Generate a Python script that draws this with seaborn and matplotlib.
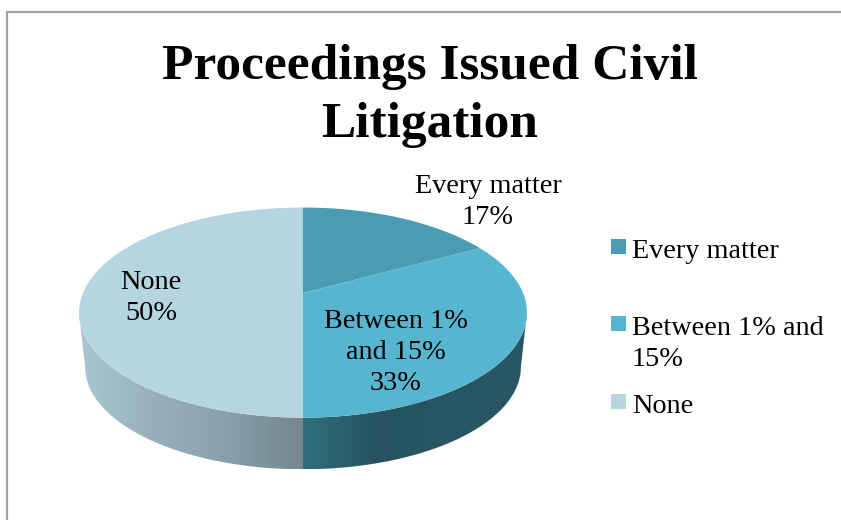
import numpy as np
import matplotlib
matplotlib.use("Agg")
import matplotlib.pyplot as plt
import seaborn as sns
from matplotlib.colors import LinearSegmentedColormap
from matplotlib.patches import Polygon, Rectangle
from matplotlib.path import Path
from matplotlib.transforms import Affine2D, Transform

title = "Proceedings Issued Civil\nLitigation"
categories = ["Every matter", "Between 1% and 15%", "None"]
shares = [17, 33, 50]
legend_labels = ["Every matter", "Between 1% and\n15%", "None"]
slice_labels = ["Every matter\n17%", "Between 1%\nand 15%\n33%", "None\n50%"]
top_colors = ["#4a9cb4", "#57b5d0", "#b5d5e1"]
# wall shading, left to right across each visible piece
wall_colors = {
    "Between 1% and 15%": ["#2f6f7c", "#26535f", "#285664", "#285664"],
    "None": ["#abc6d2", "#97b0bc", "#87a0aa", "#76868e"],
}

# pie geometry in picture pixels (tilted disc seen in perspective)
CX, CY = 303.0, 293.0
A, B, K = 220.0, 101.4, 0.1865
DEPTH, SHRINK = 55.0, 0.973


def project(x, y, drop=0.0, scale=1.0):
    w = 1 + K * y
    return CX + scale * A * x / w, CY + drop + scale * B * -y / w


class TiltedDisc(Transform):
    input_dims = 2
    output_dims = 2
    is_affine = False

    def transform_non_affine(self, values):
        values = np.asarray(values)
        sx, sy = project(values[:, 0], values[:, 1])
        return np.column_stack([sx, sy])

    def transform_path_non_affine(self, path):
        # flatten the arcs first, beziers don't survive perspective exactly
        poly = path.to_polygons(Affine2D().scale(2000), closed_only=True)[0] / 2000
        return Path(self.transform_non_affine(poly), closed=True)


sns.set_theme(style="white")
plt.rcParams["font.family"] = ["Liberation Serif", "DejaVu Serif"]
palette = sns.color_palette(top_colors)

fig = plt.figure(figsize=(8.41, 5.2), dpi=100)
ax = fig.add_axes([0, 0, 1, 1])

# side wall, only the part of the rim facing the viewer
tangent = 90 + np.degrees(np.arcsin(K))
edges = np.cumsum([0] + shares) / sum(shares) * 360
for name, start, end in zip(categories, edges[:-1], edges[1:]):
    lo, hi = max(start, tangent), min(end, 360 - tangent)
    if lo >= hi:
        continue
    t = np.radians(np.linspace(lo, hi, 80))
    x, y = np.sin(t), np.cos(t)
    top_x, top_y = project(x, y)
    bot_x, bot_y = project(x, y, DEPTH, SHRINK)
    pts = np.column_stack([np.r_[top_x, bot_x[::-1]], np.r_[top_y, bot_y[::-1]]])
    cmap = LinearSegmentedColormap.from_list(name, wall_colors[name])
    im = ax.imshow(
        np.linspace(0, 1, 256).reshape(1, -1), cmap=cmap, aspect="auto",
        extent=(pts[:, 0].min(), pts[:, 0].max(), pts[:, 1].max(), pts[:, 1].min()),
    )
    clip = Polygon(pts, closed=True, transform=ax.transData, fill=False, lw=0)
    ax.add_patch(clip)
    im.set_clip_path(clip)

wedges, _ = ax.pie(
    shares, colors=palette, startangle=90, counterclock=False,
    wedgeprops={"linewidth": 0},
)
disc = TiltedDisc() + ax.transData
for wedge in wedges:
    wedge.set_transform(disc)

ax.set_aspect("auto")
ax.set_xlim(0, 841)
ax.set_ylim(520, 0)
ax.axis("off")

# chart frame, only top and left survive the crop
ax.plot([7.5, 7.5, 841], [520, 12, 12], color="#a0a0a0", lw=1.6, solid_joinstyle="miter")

ax.text(430, 96, title, fontsize=37, fontweight="bold", ha="center", va="center",
        linespacing=1.34, color="black")

label_pos = [(488, 202), (396, 352.5), (151, 298)]
for text, (lx, ly) in zip(slice_labels, label_pos):
    ax.text(lx, ly, text, fontsize=20.3, ha="center", va="center", linespacing=1.33, color="black")

legend_y = [239, 316, 394]
for color, text, ly in zip(palette, legend_labels, legend_y):
    ax.add_patch(Rectangle((611, ly), 15, 15, facecolor=color, edgecolor="none"))
    ax.text(632, ly, text, fontsize=20.3, ha="left", va="top", linespacing=1.33, color="black")

fig.savefig("out.png", dpi=100)
